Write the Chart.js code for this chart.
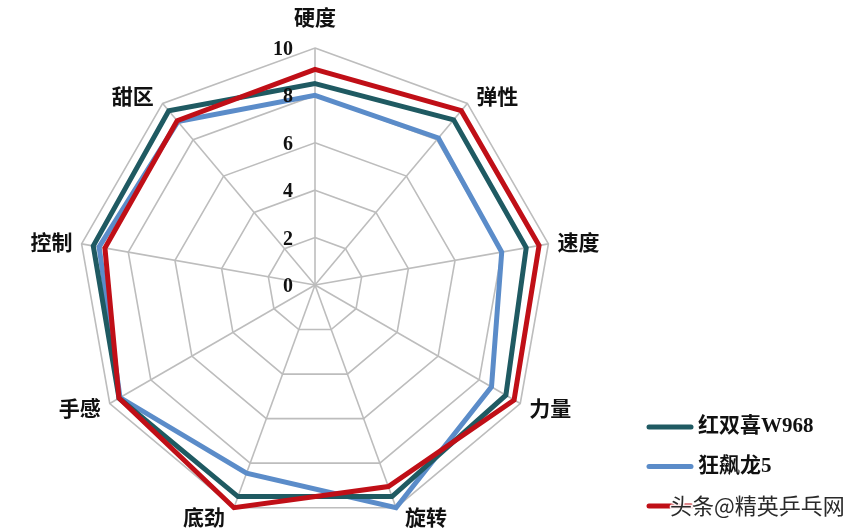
<!DOCTYPE html>
<html><head><meta charset="utf-8">
<script src="https://cdn.jsdelivr.net/npm/chart.js@4/dist/chart.umd.min.js"></script>
<style>html,body{margin:0;padding:0;background:#fff}#wrap{position:relative;width:864px;height:530px}</style>
</head><body><div id="wrap"><canvas id="c"></canvas></div>
<script>
const categories = ['硬度','弹性','速度','力量','旋转','底劲','手感','控制','甜区'];
const seriesNames = ['红双喜W968','狂飙龙5','头条@精英乒乓网'];
const w968 = [8.5, 9.1, 9.05, 9.3, 9.5, 9.5, 9.55, 9.5, 9.6];
const kbl5 = [8.0, 8.1, 8.0, 8.6, 10.0, 8.45, 9.5, 9.25, 9.0];
const third = [9.1, 9.6, 9.6, 9.7, 9.05, 10.0, 9.55, 9.0, 9.05];
const tickValues = [0, 2, 4, 6, 8, 10];
const colors = ['#1f5a62', '#5b8cc9', '#c00f17'];
const seriesData = [w968, kbl5, third];
const drawOrder = [1, 2, 0];

const labelsPlugin = {
  id: 'customLabels',
  beforeDatasetsDraw(chart) {
    const s = chart.scales.r, ctx = chart.ctx;
    ctx.save();
    ctx.fillStyle = '#111';
    ctx.font = 'bold 21px "Noto Sans CJK SC", sans-serif';
    chart.data.labels.forEach((lab, i) => {
      const a = s.getIndexAngle(i);
      const p = s.getPointPosition(i, s.drawingArea);
      const sn = Math.sin(a), cs = Math.cos(a);
      ctx.textBaseline = 'middle';
      if (Math.abs(sn) < 0.01) {
        ctx.textAlign = 'center';
        ctx.fillText(lab, p.x, p.y - 31 * Math.sign(cs));
      } else {
        ctx.textAlign = sn > 0 ? 'left' : 'right';
        ctx.fillText(lab, p.x + (sn > 0 ? 9 : -9), p.y - 10 * cs);
      }
    });
    ctx.restore();
  },
  afterDatasetsDraw(chart) {
    const s = chart.scales.r, ctx = chart.ctx;
    ctx.save();
    ctx.fillStyle = '#111';
    ctx.font = 'bold 20px "Liberation Serif", serif';
    ctx.textAlign = 'right';
    ctx.textBaseline = 'alphabetic';
    s.ticks.forEach(t => {
      const d = s.getDistanceFromCenterForValue(t.value);
      ctx.fillText(String(t.value), s.xCenter - 22, s.yCenter - d + 7);
    });
    ctx.restore();
  },
  afterDraw(chart) {
    const ctx = chart.ctx;
    ctx.save();
    chart.data.datasets.forEach((ds, i) => {
      const y = 427 + i * 39.5;
      ctx.strokeStyle = ds.borderColor;
      ctx.lineWidth = 5;
      ctx.lineCap = 'round';
      ctx.beginPath(); ctx.moveTo(649, y); ctx.lineTo(691, y); ctx.stroke();
      ctx.textBaseline = 'middle';
      ctx.textAlign = 'left';
      if (i < 2) {
        ctx.fillStyle = '#111';
        ctx.font = 'bold 21px "Liberation Serif", "Noto Sans CJK SC", serif';
        ctx.fillText(ds.label, 698, y);
      } else {
        ctx.font = '22px "Noto Sans CJK SC", sans-serif';
        ctx.lineWidth = 3;
        ctx.lineJoin = 'round';
        ctx.strokeStyle = 'rgba(255,255,255,0.9)';
        ctx.strokeText(ds.label, 670, y);
        ctx.fillStyle = '#2a2a2a';
        ctx.fillText(ds.label, 670, y);
      }
    });
    ctx.restore();
  }
};

new Chart(document.getElementById('c'), {
  type: 'radar',
  data: {
    labels: categories,
    datasets: seriesData.map((d, i) => ({
      label: seriesNames[i],
      data: d,
      borderColor: colors[i],
      backgroundColor: colors[i],
      borderWidth: 5,
      pointRadius: 0,
      pointHoverRadius: 0,
      fill: false,
      tension: 0,
      order: drawOrder[i]
    }))
  },
  options: {
    responsive: true,
    maintainAspectRatio: false,
    animation: false,
    layout: { padding: { left: 78, top: 48, right: 312, bottom: 8 } },
    plugins: { legend: { display: false }, tooltip: { enabled: false } },
    scales: {
      r: {
        min: tickValues[0],
        max: tickValues[tickValues.length - 1],
        ticks: { stepSize: tickValues[1] - tickValues[0], display: false },
        pointLabels: { display: false },
        grid: { color: '#bdbdbd', lineWidth: 1.6 },
        angleLines: { color: '#bdbdbd', lineWidth: 1.6 }
      }
    }
  },
  plugins: [labelsPlugin]
});
</script>
</body></html>
